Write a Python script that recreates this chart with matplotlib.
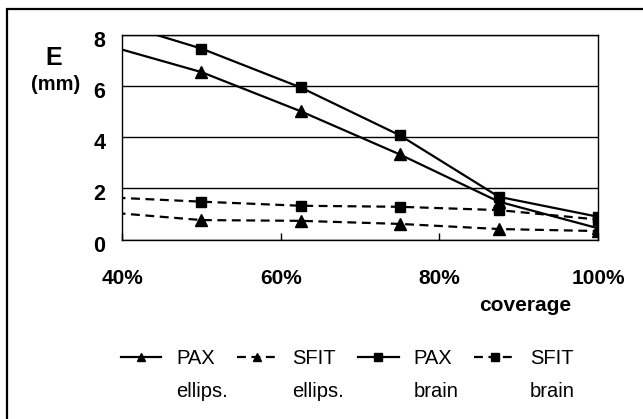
import matplotlib
matplotlib.use("Agg")
import matplotlib.pyplot as plt
import matplotlib.transforms as mtransforms
from matplotlib.patches import Rectangle

# ---------------- DATA ----------------
coverage = [37.5, 50, 62.5, 75, 87.5, 100]
pax_ellips = [7.65, 6.55, 5.02, 3.33, 1.48, 0.44]
sfit_ellips = [1.08, 0.76, 0.73, 0.61, 0.41, 0.33]
pax_brain = [8.65, 7.47, 5.95, 4.08, 1.67, 0.89]
sfit_brain = [1.66, 1.48, 1.32, 1.28, 1.15, 0.78]

x_ticks = [40, 60, 80, 100]
x_tick_labels = ["40%", "60%", "80%", "100%"]
y_ticks = [0, 2, 4, 6, 8]
legend_top = ["PAX", "SFIT", "PAX", "SFIT"]
legend_bottom = ["ellips.", "ellips.", "brain", "brain"]

W, H = 643, 419
plt.rcParams["font.family"] = ["Liberation Sans", "DejaVu Sans"]

fig = plt.figure(figsize=(W / 100, H / 100), dpi=100)
fig.patch.set_facecolor("white")

# outer frame (only top and left edges visible in the picture)
fig.patches.append(Rectangle((7 / W, -0.1), 1.2, 1.1 - 9 / H, transform=fig.transFigure,
                             fill=False, edgecolor="black", linewidth=1.6))

ax = fig.add_axes([122 / W, 1 - 239.5 / H, (598 - 122) / W, (239.5 - 35) / H])

# ---------------- LINES ----------------
dash = (0, (4, 2.5))
h1, = ax.plot(coverage, pax_ellips, color="black", lw=1.6, marker="^", ms=8)
h2, = ax.plot(coverage, sfit_ellips, color="black", lw=1.6, ls=dash, marker="^", ms=8)
h3, = ax.plot(coverage, pax_brain, color="black", lw=1.6, marker="s", ms=7.5)
h4, = ax.plot(coverage, sfit_brain, color="black", lw=1.6, ls=dash, marker="s", ms=7.5)

ax.set_xlim(40, 100)
ax.set_ylim(0, 8)
ax.set_xticks(x_ticks)
ax.set_xticklabels(x_tick_labels, fontsize=15, fontweight="bold")
ax.set_yticks(y_ticks)
ax.set_yticklabels([str(v) for v in y_ticks], fontsize=15.5, fontweight="bold")
ax.tick_params(axis="x", direction="in", length=5, width=1, pad=21)
ax.tick_params(axis="y", length=0, pad=12)
ax.yaxis.grid(True, color="black", lw=1)
for s in ax.spines.values():
    s.set_linewidth(1)

shift = mtransforms.ScaledTranslation(0, -4 / 100, fig.dpi_scale_trans)
for lab in ax.get_yticklabels():
    lab.set_transform(lab.get_transform() + shift)

# axis titles
fig.text(53.5 / W, 1 - 58 / H, "E", ha="center", va="center", fontsize=18, fontweight="bold")
fig.text(56 / W, 1 - 85 / H, "(mm)", ha="center", va="center", fontsize=14.5, fontweight="bold")
fig.text(525 / W, 1 - 305 / H, "coverage", ha="center", va="center", fontsize=15, fontweight="bold")

# ---------------- LEGEND ----------------
leg = fig.legend([h1, h2, h3, h4], legend_top, loc="upper left",
                 bbox_to_anchor=(121 / W, 1 - 349 / H), ncol=4, frameon=False,
                 fontsize=14.5, handlelength=2.0, handletextpad=0.75, columnspacing=1.1,
                 borderpad=0, borderaxespad=0, markerscale=0.7)

fig.canvas.draw()
for t, sub in zip(leg.get_texts(), legend_bottom):
    bb = t.get_window_extent()
    fig.text(bb.x0 / W, (bb.y0 - 33) / H, sub, ha="left", va="bottom", fontsize=14.5)

fig.savefig("out.png", dpi=100)
